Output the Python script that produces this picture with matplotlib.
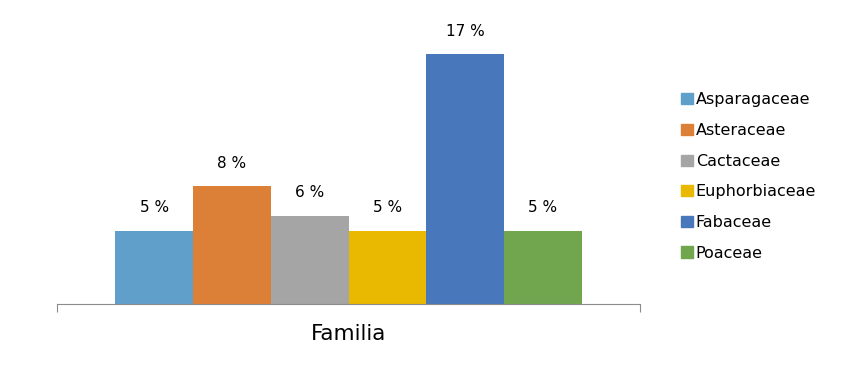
import numpy as np
import matplotlib.pyplot as plt
from matplotlib.patches import Patch

familias = ['Asparagaceae', 'Asteraceae', 'Cactaceae', 'Euphorbiaceae', 'Fabaceae', 'Poaceae']
porcentajes = [5, 8, 6, 5, 17, 5]
colores = ['#619fcb', '#dd8037', '#a5a5a5', '#e9b800', '#4878bb', '#71a64e']

fig = plt.figure(figsize=(8.5, 3.67), dpi=100)
ax = fig.add_axes([57/850, 1 - 304/367, (640-57)/850, (304-39.4)/367])

n = len(familias)
w = 0.8 / n
x0 = -0.4 + w/2
for i, (f, v, c) in enumerate(zip(familias, porcentajes, colores)):
    xi = x0 + i*w
    ax.bar(xi, v, width=w, color=c, label=f)
    ax.text(xi, v + 1.05, f'{v} %', ha='center', va='bottom', fontsize=11)

ax.set_xlim(-0.5, 0.5)
ax.set_ylim(0, 18)
for s in ['top', 'right', 'left']:
    ax.spines[s].set_visible(False)
ax.spines['bottom'].set_color('#8c8c8c')
ax.set_yticks([])
ax.set_xticks([-0.5, 0.5])
ax.set_xticklabels(['', ''])
ax.tick_params(axis='x', direction='out', length=6, color='#8c8c8c')
ax.set_xlabel('Familia', fontsize=15.5, labelpad=5)

handles = [Patch(color=c, label=f) for f, c in zip(familias, colores)]
fig.legend(handles=handles, loc='upper left', bbox_to_anchor=(667/850, 1 - 78/367),
           frameon=False, fontsize=11.5, handlelength=0.7, handleheight=0.7,
           handletextpad=0.2, labelspacing=0.98)

fig.savefig('out.png', dpi=100)
